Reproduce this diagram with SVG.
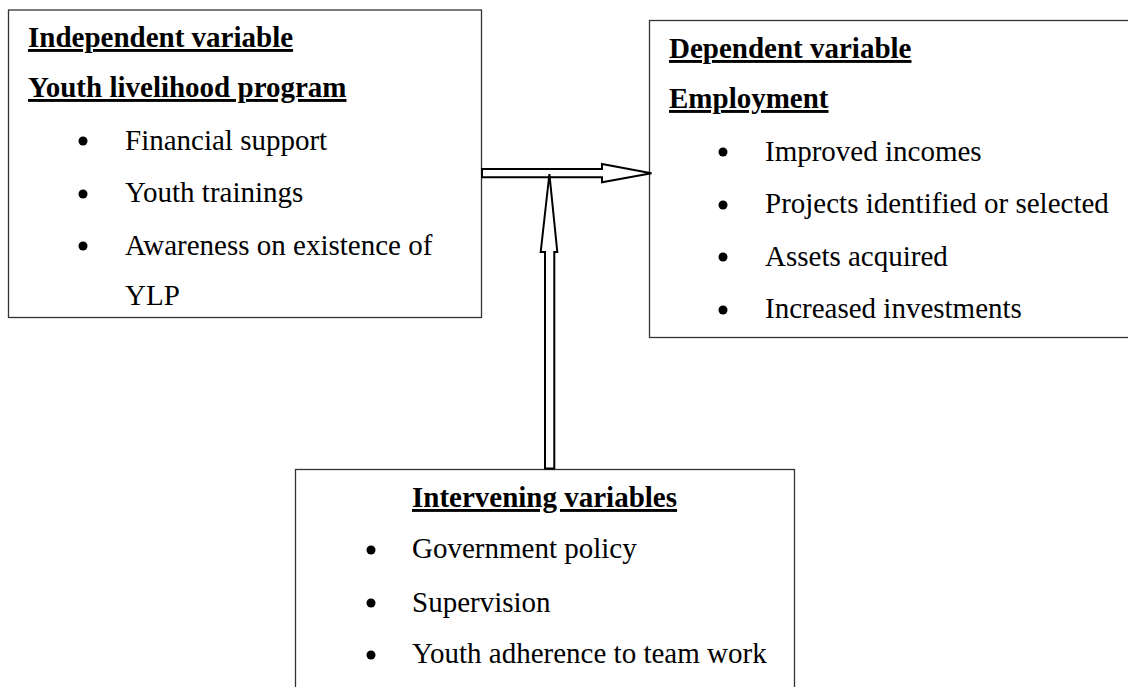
<svg xmlns="http://www.w3.org/2000/svg" width="1128" height="687" viewBox="0 0 1128 687">
<style>
.box{fill:#fff;stroke:#333;stroke-width:1.3}
.t{font-family:"Liberation Serif",serif;font-size:29px;fill:#000}
.h{font-weight:bold;text-decoration:underline}
.arr{fill:#fff;stroke:#000;stroke-width:2;stroke-linejoin:miter}
</style>
<rect width="1128" height="687" fill="#fff"/>
<g id="independent">
<rect class="box" x="8.5" y="10" width="473" height="307.5"/>
<text class="t h" x="28" y="47">Independent variable</text>
<text class="t h" x="28" y="97">Youth livelihood program</text>
<circle cx="83" cy="141" r="4.5"/>
<text class="t" x="125" y="150">Financial support</text>
<circle cx="83" cy="194" r="4.5"/>
<text class="t" x="125" y="202">Youth trainings</text>
<circle cx="83" cy="246" r="4.5"/>
<text class="t" x="125" y="255">Awareness on existence of</text>
<text class="t" x="125" y="305">YLP</text>
</g>
<g id="dependent">
<rect class="box" x="649.5" y="20.5" width="490" height="317"/>
<text class="t h" x="669" y="58">Dependent variable</text>
<text class="t h" x="669" y="108">Employment</text>
<circle cx="723" cy="152" r="4.5"/>
<text class="t" x="765" y="161">Improved incomes</text>
<circle cx="723" cy="205" r="4.5"/>
<text class="t" x="765" y="213">Projects identified or selected</text>
<circle cx="723" cy="257" r="4.5"/>
<text class="t" x="765" y="266">Assets acquired</text>
<circle cx="723" cy="310" r="4.5"/>
<text class="t" x="765" y="318">Increased investments</text>
</g>
<g id="intervening">
<rect class="box" x="295.5" y="469.5" width="499" height="230"/>
<text class="t h" x="412" y="507">Intervening variables</text>
<circle cx="371" cy="550" r="4.5"/>
<text class="t" x="412" y="558">Government policy</text>
<circle cx="371" cy="603" r="4.5"/>
<text class="t" x="412" y="612">Supervision</text>
<circle cx="371" cy="655" r="4.5"/>
<text class="t" x="412" y="663">Youth adherence to team work</text>
</g>
<g id="connectors">
<polygon class="arr" points="482,169 602,169 602,164 651.5,173.3 602,182.3 602,177.3 482,177.3"/>
<polygon class="arr" points="545,468.5 545,252 540.7,252 549.4,174 557.3,252 554.3,252 554.3,468.5"/>
</g>
</svg>
